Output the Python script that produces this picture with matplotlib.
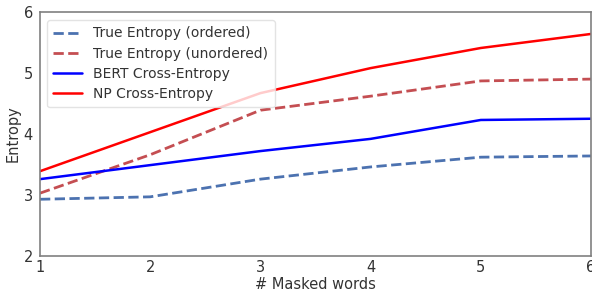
import matplotlib
matplotlib.use("Agg")
import matplotlib.pyplot as plt
import seaborn as sns

sns.set_theme(style="white")
plt.rcParams['font.family'] = ['DejaVu Sans']

masked = [1, 2, 3, 4, 5, 6]
true_ordered = [2.93, 2.97, 3.26, 3.46, 3.62, 3.64]
true_unordered = [3.03, 3.66, 4.39, 4.62, 4.87, 4.90]
bert_ce = [3.26, 3.49, 3.72, 3.92, 4.23, 4.25]
np_ce = [3.39, 4.03, 4.67, 5.08, 5.41, 5.64]

fig = plt.figure(figsize=(5.92, 2.89), dpi=100)
ax = fig.add_axes([40/592, 33/289, 551/592, 244/289])

ax.plot(masked, true_ordered, '--', color='#4c72b0', lw=2, label='True Entropy (ordered)')
ax.plot(masked, true_unordered, '--', color='#c44e52', lw=2, label='True Entropy (unordered)')
ax.plot(masked, bert_ce, '-', color='blue', lw=1.8, label='BERT Cross-Entropy')
ax.plot(masked, np_ce, '-', color='red', lw=1.8, label='NP Cross-Entropy')

ax.set_xlim(1, 6)
ax.set_ylim(2, 6)
ax.set_xticks([1, 2, 3, 4, 5, 6])
ax.set_yticks([2, 3, 4, 5, 6])
ax.tick_params(axis='x', labelsize=10.5, colors='#333333', length=0, pad=3)
ax.tick_params(axis='y', labelsize=10.5, colors='#333333', length=0, pad=5)
ax.set_xlabel('# Masked words', fontsize=10.5, color='#333333', va='top')
ax.xaxis.set_label_coords(0.5, -0.088)
ax.set_ylabel('Entropy', fontsize=10.5, color='#333333', va='center')
ax.yaxis.set_label_coords(-0.049, 0.5)
for s in ax.spines.values():
    s.set_color('#808080')
    s.set_linewidth(1.2)
leg = ax.legend(loc='upper left', fontsize=10, frameon=True, handlelength=2.1,
                borderpad=0.45, labelspacing=0.45, bbox_to_anchor=(0.0, 0.995))
leg.get_frame().set_edgecolor('#dddddd')
for t in leg.get_texts():
    t.set_color('#333333')

fig.savefig('out.png', dpi=100)
